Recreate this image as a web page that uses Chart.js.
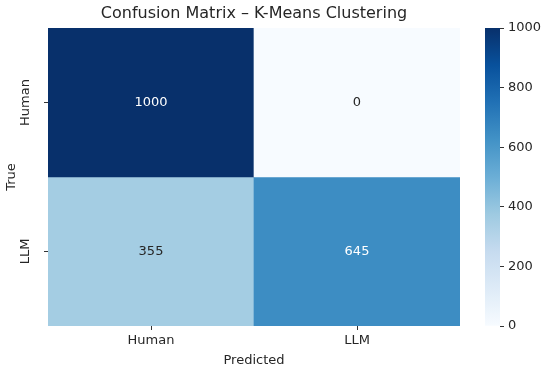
<!DOCTYPE html>
<html>
<head>
<meta charset="utf-8">
<script src="https://cdn.jsdelivr.net/npm/chart.js@4"></script>
<style>
  html, body { margin: 0; padding: 0; background: #fff; }
  #wrap { position: relative; width: 550px; height: 374px; }
  #heat { position: absolute; left: 0; top: 0; }
  #cbar { position: absolute; left: 460px; top: 0; }
</style>
</head>
<body>
<div id="wrap">
  <canvas id="heat" width="550" height="374"></canvas>
  <canvas id="cbar" width="90" height="374"></canvas>
</div>
<script>
//* DATA *//
let titleText = 'Confusion Matrix – K-Means Clustering';
let trueLabels = ['Human', 'LLM'];
let predLabels = ['Human', 'LLM'];
let humanRow = [1000, 0];
let llmRow = [355, 645];
let cbTicks = [0, 200, 400, 600, 800, 1000];
let vMin = 0;
let vMax = 1000;

//* STYLE *//
let fontFamily = '"DejaVu Sans", sans-serif';
let fontSize = 13;
let textColor = '#262626';
let tickColor = '#333333';
// matplotlib "Blues" colormap stops
let blues = ['#f7fbff', '#deebf7', '#c6dbef', '#9ecae1', '#6baed6', '#4292c6', '#2171b5', '#08519c', '#08306b'];

//* HELPERS *//
function hexToRgb(h) {
  return [parseInt(h.slice(1, 3), 16), parseInt(h.slice(3, 5), 16), parseInt(h.slice(5, 7), 16)];
}

function blueRgb(v) {
  let t = (v - vMin) / (vMax - vMin);
  t = Math.max(0, Math.min(1, t));
  let pos = t * (blues.length - 1);
  let i = Math.min(Math.floor(pos), blues.length - 2);
  let f = pos - i;
  let a = hexToRgb(blues[i]);
  let b = hexToRgb(blues[i + 1]);
  return a.map((c, k) => Math.round(c + (b[k] - c) * f));
}

function blueAt(v) {
  let c = blueRgb(v);
  return `rgb(${c[0]}, ${c[1]}, ${c[2]})`;
}

// same rule seaborn uses to pick annotation colour
function annotColor(v) {
  let lin = blueRgb(v).map(c => {
    c = c / 255;
    return c <= 0.03928 ? c / 12.92 : Math.pow((c + 0.055) / 1.055, 2.4);
  });
  let lum = 0.2126 * lin[0] + 0.7152 * lin[1] + 0.0722 * lin[2];
  return lum > 0.408 ? textColor : '#ffffff';
}

//* HEATMAP *//
let rows = [humanRow, llmRow];

let datasets = rows.map((row, i) => ({
  label: trueLabels[i],
  data: row.map(() => [rows.length - 1 - i, rows.length - i]),
  counts: row,
  backgroundColor: row.map(v => blueAt(v)),
  borderWidth: 0,
  grouped: false,
  categoryPercentage: 1,
  barPercentage: 1
}));

let annotPlugin = {
  id: 'annot',
  afterDatasetsDraw(chart) {
    let c = chart.ctx;
    c.save();
    c.font = fontSize + 'px ' + fontFamily;
    c.textAlign = 'center';
    c.textBaseline = 'middle';
    chart.data.datasets.forEach((ds, i) => {
      chart.getDatasetMeta(i).data.forEach((bar, j) => {
        let v = ds.counts[j];
        c.fillStyle = annotColor(v);
        c.fillText(String(v), bar.x, (bar.y + bar.base) / 2);
      });
    });
    c.restore();
  }
};

new Chart(document.getElementById('heat'), {
  type: 'bar',
  data: { labels: predLabels, datasets: datasets },
  plugins: [annotPlugin],
  options: {
    responsive: false,
    animation: false,
    layout: { padding: { left: 0, right: 90, top: 0, bottom: 0 } },
    plugins: {
      legend: { display: false },
      tooltip: { enabled: false },
      title: {
        display: true,
        text: titleText,
        fullSize: false,
        color: textColor,
        font: { family: fontFamily, size: 16, weight: 'normal' },
        padding: { top: 4.5, bottom: 4.3 }
      }
    },
    scales: {
      x: {
        type: 'category',
        offset: true,
        grid: { display: true, offset: false, drawOnChartArea: false, drawTicks: true, tickLength: 4, color: tickColor },
        border: { display: false },
        ticks: { color: textColor, font: { family: fontFamily, size: fontSize }, padding: 3 },
        title: {
          display: true,
          text: 'Predicted',
          color: textColor,
          font: { family: fontFamily, size: fontSize },
          padding: { top: 0, bottom: 6 }
        },
        afterFit(s) { s.height = 48; }
      },
      y: {
        type: 'linear',
        min: 0,
        max: rows.length,
        afterBuildTicks(s) {
          s.ticks = rows.map((r, i) => ({ value: i + 0.5 }));
        },
        grid: { display: true, drawOnChartArea: false, drawTicks: true, tickLength: 4, color: tickColor },
        border: { display: false },
        ticks: {
          callback: v => trueLabels[rows.length - 1 - Math.floor(v)],
          minRotation: 90,
          maxRotation: 90,
          crossAlign: 'center',
          padding: -5,
          color: textColor,
          font: { family: fontFamily, size: fontSize }
        },
        title: {
          display: true,
          text: 'True',
          color: textColor,
          font: { family: fontFamily, size: fontSize },
          padding: { top: 4, bottom: 0 }
        },
        afterFit(s) { s.width = 48; }
      }
    }
  }
});

//* COLORBAR *//
new Chart(document.getElementById('cbar'), {
  type: 'bar',
  data: {
    labels: [''],
    datasets: [{
      data: [[vMin, vMax]],
      backgroundColor(ctx) {
        let area = ctx.chart.chartArea;
        if (!area) return blues[0];
        let g = ctx.chart.ctx.createLinearGradient(0, area.bottom, 0, area.top);
        blues.forEach((col, i) => g.addColorStop(i / (blues.length - 1), col));
        return g;
      },
      borderWidth: 0,
      categoryPercentage: 1,
      barPercentage: 1
    }]
  },
  options: {
    responsive: false,
    animation: false,
    layout: { padding: { left: 25, top: 28, bottom: 48, right: 0 } },
    plugins: { legend: { display: false }, tooltip: { enabled: false } },
    scales: {
      x: { display: false },
      y: {
        position: 'right',
        min: vMin,
        max: vMax,
        afterBuildTicks(s) {
          s.ticks = cbTicks.map(v => ({ value: v }));
        },
        grid: { display: true, drawOnChartArea: false, drawTicks: true, tickLength: 4, color: tickColor },
        border: { display: false },
        ticks: { callback: v => String(v), color: textColor, font: { family: fontFamily, size: fontSize }, padding: 4 },
        afterFit(s) { s.width = 50; }
      }
    }
  }
});
</script>
</body>
</html>
